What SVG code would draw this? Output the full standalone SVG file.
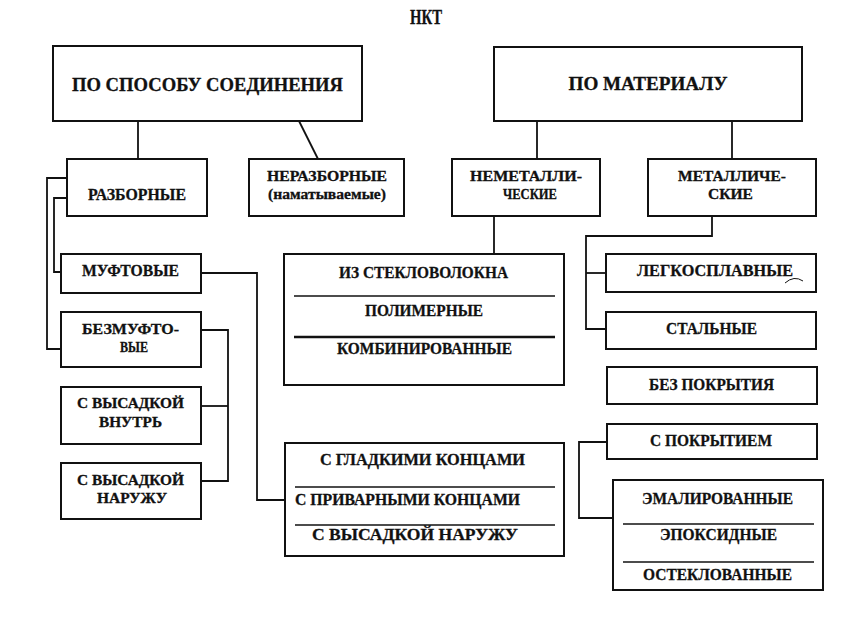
<svg xmlns="http://www.w3.org/2000/svg" width="849" height="630" viewBox="0 0 849 630">
<style>
.box{fill:#fff;stroke:#111;stroke-width:2}
.div{stroke:#111;stroke-width:1.5;fill:none}
.div2{stroke:#111;stroke-width:2.5;fill:none}
.con{stroke:#111;stroke-width:1.8;fill:none}
text{font-family:"Liberation Serif","Times New Roman",serif;font-weight:bold;fill:#111;stroke:#111;stroke-width:0.3;text-anchor:middle;font-size:17px}
.two{font-size:15px}
.big{font-size:19.5px}
.title{font-size:20px}
</style>
<rect width="849" height="630" fill="#fff"/>
<text class="title" x="426" y="24" textLength="32" lengthAdjust="spacingAndGlyphs">НКТ</text>
<g id="connectors">
<path class="con" d="M138,121V159"/>
<path class="con" d="M299,121L318,159"/>
<path class="con" d="M537,121V159"/>
<path class="con" d="M732,121V159"/>
<path class="con" d="M67,178H47V349H61"/>
<path class="con" d="M67,198H54V272H61"/>
<path class="con" d="M201,273H257V500H285"/>
<path class="con" d="M201,330H228V481H201"/>
<path class="con" d="M201,406H228"/>
<path class="con" d="M494,216V254"/>
<path class="con" d="M712,216V236H586V329H606"/>
<path class="con" d="M586,273H606"/>
<path class="con" d="M607,442H579V518H613"/>
</g>
<g id="n-sposob"><rect class="box" x="53" y="46" width="309" height="75"/><text class="big" x="207.5" y="91" textLength="271" lengthAdjust="spacingAndGlyphs">ПО СПОСОБУ СОЕДИНЕНИЯ</text></g>
<g id="n-material"><rect class="box" x="494" y="47" width="308" height="74"/><text class="big" x="648" y="90" textLength="159" lengthAdjust="spacingAndGlyphs">ПО МАТЕРИАЛУ</text></g>
<g id="n-razbornye"><rect class="box" x="67" y="159" width="140" height="57"/><text x="137" y="200" textLength="98" lengthAdjust="spacingAndGlyphs">РАЗБОРНЫЕ</text></g>
<g id="n-nerazbornye"><rect class="box" x="249" y="159" width="155" height="57"/><text class="two" x="327" y="181" textLength="120" lengthAdjust="spacingAndGlyphs">НЕРАЗБОРНЫЕ</text><text class="two" x="327" y="199" textLength="118" lengthAdjust="spacingAndGlyphs">(наматываемые)</text></g>
<g id="n-nemet"><rect class="box" x="452" y="159" width="148" height="57"/><text class="two" x="526" y="181" textLength="112" lengthAdjust="spacingAndGlyphs">НЕМЕТАЛЛИ-</text><text class="two" x="530" y="199" textLength="54" lengthAdjust="spacingAndGlyphs">ЧЕСКИЕ</text></g>
<g id="n-met"><rect class="box" x="648" y="159" width="168" height="57"/><text class="two" x="732" y="181" textLength="108" lengthAdjust="spacingAndGlyphs">МЕТАЛЛИЧЕ-</text><text class="two" x="730.5" y="199" textLength="45" lengthAdjust="spacingAndGlyphs">СКИЕ</text></g>
<g id="n-muft"><rect class="box" x="61" y="254" width="140" height="39"/><text x="130.5" y="276" textLength="97" lengthAdjust="spacingAndGlyphs">МУФТОВЫЕ</text></g>
<g id="n-bezmuft"><rect class="box" x="61" y="312" width="140" height="55"/><text class="two" x="130.5" y="334" textLength="97" lengthAdjust="spacingAndGlyphs">БЕЗМУФТО-</text><text class="two" x="134" y="352" textLength="28" lengthAdjust="spacingAndGlyphs">ВЫЕ</text></g>
<g id="n-vnutr"><rect class="box" x="61" y="387" width="140" height="57"/><text class="two" x="130.5" y="408" textLength="107" lengthAdjust="spacingAndGlyphs">С ВЫСАДКОЙ</text><text class="two" x="130.5" y="427" textLength="63" lengthAdjust="spacingAndGlyphs">ВНУТРЬ</text></g>
<g id="n-naruzhu"><rect class="box" x="61" y="463" width="140" height="56"/><text class="two" x="130.5" y="485" textLength="107" lengthAdjust="spacingAndGlyphs">С ВЫСАДКОЙ</text><text class="two" x="132" y="503" textLength="70" lengthAdjust="spacingAndGlyphs">НАРУЖУ</text></g>
<g id="n-steklo"><rect class="box" x="284" y="254" width="280" height="131"/>
<path class="div" d="M294,296H555"/><path class="div2" d="M294,337H555"/>
<text x="423.5" y="278" textLength="169" lengthAdjust="spacingAndGlyphs">ИЗ СТЕКЛОВОЛОКНА</text>
<text x="424" y="316" textLength="118" lengthAdjust="spacingAndGlyphs">ПОЛИМЕРНЫЕ</text>
<text x="424.5" y="354" textLength="175" lengthAdjust="spacingAndGlyphs">КОМБИНИРОВАННЫЕ</text></g>
<g id="n-legko"><rect class="box" x="606" y="254" width="210" height="38"/><text x="715" y="276" textLength="156" lengthAdjust="spacingAndGlyphs">ЛЕГКОСПЛАВНЫЕ</text><path d="M785,283Q794,275 803,281" fill="none" stroke="#111" stroke-width="1"/></g>
<g id="n-stal"><rect class="box" x="606" y="312" width="210" height="37"/><text x="711.5" y="334" textLength="91" lengthAdjust="spacingAndGlyphs">СТАЛЬНЫЕ</text></g>
<g id="n-bezpokr"><rect class="box" x="607" y="367" width="210" height="37"/><text x="711.5" y="390" textLength="125" lengthAdjust="spacingAndGlyphs">БЕЗ ПОКРЫТИЯ</text></g>
<g id="n-spokr"><rect class="box" x="607" y="424" width="210" height="35"/><text x="711" y="446" textLength="122" lengthAdjust="spacingAndGlyphs">С ПОКРЫТИЕМ</text></g>
<g id="n-koncy"><rect class="box" x="285" y="443" width="279" height="113"/>
<path class="div" d="M295,487H555"/><path class="div" d="M295,525H555"/>
<text x="422.5" y="465" textLength="205" lengthAdjust="spacingAndGlyphs">С ГЛАДКИМИ КОНЦАМИ</text>
<text x="407.5" y="505" textLength="225" lengthAdjust="spacingAndGlyphs">С ПРИВАРНЫМИ КОНЦАМИ</text>
<text x="415" y="540" textLength="206" lengthAdjust="spacingAndGlyphs">С ВЫСАДКОЙ НАРУЖУ</text></g>
<g id="n-emal"><rect class="box" x="613" y="480" width="210" height="110"/>
<path class="div" d="M623,524H814"/><path class="div" d="M623,562H814"/>
<text x="717.5" y="504" textLength="151" lengthAdjust="spacingAndGlyphs">ЭМАЛИРОВАННЫЕ</text>
<text x="718.5" y="540" textLength="117" lengthAdjust="spacingAndGlyphs">ЭПОКСИДНЫЕ</text>
<text x="717.5" y="580" textLength="149" lengthAdjust="spacingAndGlyphs">ОСТЕКЛОВАННЫЕ</text></g>
</svg>
